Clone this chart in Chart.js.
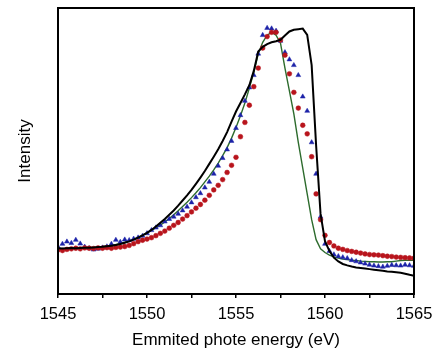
<!DOCTYPE html>
<html>
<head>
<meta charset="utf-8">
<script src="https://cdn.jsdelivr.net/npm/chart.js@4/dist/chart.umd.min.js"></script>
<style>
  html, body { margin: 0; padding: 0; background: #fff; }
  #wrap { width: 435px; height: 352px; position: relative; }
</style>
</head>
<body>
<div id="wrap"><canvas id="c"></canvas></div>
<script>
// Emitted photon energy (eV)
const energies = [
  1545.00,1545.25,1545.50,1545.75,1546.00,1546.25,1546.50,1546.75,1547.00,1547.25,
  1547.50,1547.75,1548.00,1548.25,1548.50,1548.75,1549.00,1549.25,1549.50,1549.75,
  1550.00,1550.25,1550.50,1550.75,1551.00,1551.25,1551.50,1551.75,1552.00,1552.25,
  1552.50,1552.75,1553.00,1553.25,1553.50,1553.75,1554.00,1554.25,1554.50,1554.75,
  1555.00,1555.25,1555.50,1555.75,1556.00,1556.25,1556.50,1556.75,1557.00,1557.25,
  1557.50,1557.75,1558.00,1558.25,1558.50,1558.75,1559.00,1559.25,1559.50,1559.75,
  1560.00,1560.25,1560.50,1560.75,1561.00,1561.25,1561.50,1561.75,1562.00,1562.25,
  1562.50,1562.75,1563.00,1563.25,1563.50,1563.75,1564.00,1564.25,1564.50,1564.75,
  1565.00
];
// Intensity (arbitrary units)
const blackLine = [
  0.160,0.159,0.160,0.161,0.160,0.161,0.162,0.162,0.163,0.164,
  0.165,0.167,0.169,0.171,0.175,0.179,0.184,0.190,0.197,0.205,
  0.214,0.224,0.236,0.249,0.262,0.277,0.292,0.309,0.327,0.345,
  0.364,0.385,0.407,0.430,0.455,0.480,0.506,0.535,0.566,0.603,
  0.638,0.668,0.698,0.730,0.780,0.848,0.864,0.874,0.880,0.884,
  0.889,0.904,0.918,0.924,0.926,0.928,0.906,0.800,0.520,0.280,
  0.185,0.150,0.127,0.114,0.105,0.100,0.096,0.093,0.091,0.089,
  0.087,0.085,0.083,0.081,0.079,0.078,0.076,0.074,0.071,0.067,
  0.064
];
const greenLine = [
  0.155,0.157,0.160,0.161,0.160,0.161,0.162,0.163,0.163,0.164,
  0.166,0.168,0.170,0.173,0.177,0.181,0.186,0.192,0.198,0.206,
  0.214,0.222,0.231,0.241,0.252,0.264,0.277,0.291,0.306,0.321,
  0.337,0.354,0.372,0.392,0.412,0.434,0.458,0.484,0.512,0.545,
  0.582,0.623,0.668,0.720,0.775,0.840,0.880,0.905,0.915,0.905,
  0.877,0.790,0.710,0.630,0.530,0.440,0.350,0.260,0.190,0.158,
  0.145,0.136,0.130,0.126,0.122,0.120,0.118,0.117,0.115,0.114,
  0.113,0.113,0.112,0.112,0.113,0.113,0.115,0.117,0.118,0.118,
  0.118
];
const blueTriangles = [
  0.165,0.175,0.183,0.178,0.189,0.176,0.165,0.160,0.155,0.158,
  0.162,0.166,0.175,0.189,0.182,0.190,0.188,0.193,0.197,0.203,
  0.212,0.223,0.232,0.240,0.253,0.262,0.270,0.280,0.292,0.305,
  0.320,0.338,0.352,0.372,0.392,0.420,0.448,0.475,0.505,0.535,
  0.580,0.625,0.675,0.722,0.765,0.840,0.905,0.930,0.928,0.920,
  0.885,0.845,0.820,0.800,0.765,0.690,0.640,0.530,0.420,0.270,
  0.175,0.150,0.138,0.132,0.128,0.125,0.118,0.114,0.110,0.106,
  0.102,0.099,0.097,0.095,0.098,0.101,0.100,0.099,0.102,0.100,
  0.098
];
const redCircles = [
  0.154,0.152,0.156,0.158,0.160,0.158,0.161,0.160,0.159,0.161,
  0.160,0.162,0.160,0.163,0.164,0.166,0.170,0.176,0.183,0.188,
  0.192,0.197,0.204,0.212,0.220,0.230,0.240,0.250,0.262,0.274,
  0.287,0.300,0.313,0.328,0.345,0.364,0.380,0.400,0.425,0.450,
  0.478,0.550,0.600,0.660,0.725,0.790,0.860,0.900,0.915,0.915,
  0.888,0.835,0.770,0.705,0.650,0.590,0.560,0.480,0.350,0.260,
  0.205,0.180,0.168,0.160,0.156,0.152,0.149,0.146,0.143,0.140,
  0.138,0.137,0.136,0.134,0.132,0.131,0.129,0.128,0.127,0.126,
  0.125
];
const xTickValues = [1545, 1550, 1555, 1560, 1565];
const xTitle = 'Emmited phote energy (eV)';
const yTitle = 'Intensity';

const toXY = arr => arr.map((v, i) => ({ x: energies[i], y: v }));

const frame = {
  id: 'frame',
  afterDatasetsDraw(chart) {
    const a = chart.chartArea, ctx = chart.ctx;
    ctx.save();
    ctx.strokeStyle = '#000';
    ctx.lineWidth = 2;
    ctx.strokeRect(a.left, a.top, a.right - a.left, a.bottom - a.top);
    ctx.restore();
  }
};

const FONT = 'Liberation Sans, Arial, sans-serif';

new Chart(document.getElementById('c'), {
  type: 'scatter',
  data: {
    datasets: [
      { label: 'green', data: toXY(greenLine), showLine: true, borderColor: '#2d6b2d', borderWidth: 1.4, pointRadius: 0, order: 3 },
      { label: 'blue', data: toXY(blueTriangles), showLine: false, pointStyle: 'triangle', pointRadius: 2.8, backgroundColor: '#1c22a8', borderColor: '#1c22a8', borderWidth: 0.5, order: 2 },
      { label: 'red', data: toXY(redCircles), showLine: false, pointStyle: 'circle', pointRadius: 2.4, backgroundColor: '#b8141c', borderColor: '#b8141c', borderWidth: 0.5, order: 1 },
      { label: 'black', data: toXY(blackLine), showLine: true, borderColor: '#000', borderWidth: 2, pointRadius: 0, order: 0 }
    ]
  },
  options: {
    responsive: true,
    maintainAspectRatio: false,
    animation: false,
    layout: { padding: { top: 8, right: 21, left: 0, bottom: 0 } },
    plugins: { legend: { display: false }, tooltip: { enabled: false } },
    scales: {
      x: {
        type: 'linear', min: 1545, max: 1565,
        afterFit(s) { s.height = 58; s.paddingLeft = 0; s.paddingRight = 0; },
        border: { display: false },
        grid: { drawOnChartArea: false, drawTicks: true, tickLength: 4, color: '#000', lineWidth: 1.5 },
        ticks: {
          stepSize: 2.5, autoSkip: false, maxRotation: 0, padding: 7,
          color: '#000', font: { family: FONT, size: 16.5 },
          callback: v => (xTickValues.includes(v) ? String(v) : '')
        },
        title: { display: true, text: xTitle, color: '#000', padding: { top: 2, bottom: 1 },
          font: { family: FONT, size: 17 } }
      },
      y: {
        min: 0, max: 1,
        afterFit(s) { s.width = 58; },
        border: { display: false },
        grid: { display: false },
        ticks: { display: false },
        title: { display: true, text: yTitle, color: '#000', padding: { top: 15, bottom: 0 },
          font: { family: FONT, size: 17 } }
      }
    }
  },
  plugins: [frame]
});
</script>
</body>
</html>
